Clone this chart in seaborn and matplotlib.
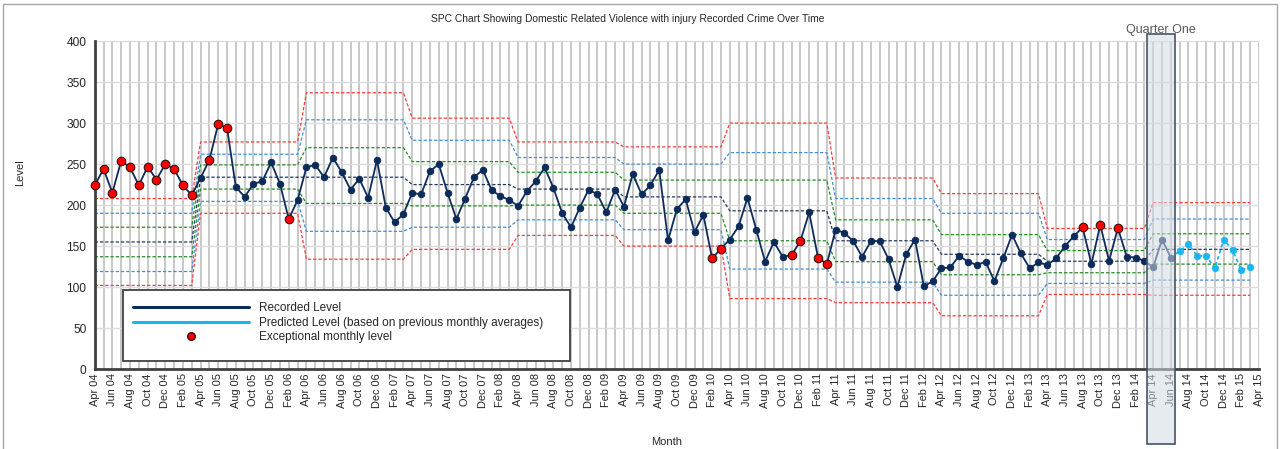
import numpy as np
import pandas as pd
import matplotlib
matplotlib.use("Agg")
import matplotlib.pyplot as plt
from matplotlib.patches import Rectangle
from matplotlib.lines import Line2D
import seaborn as sns

# month axis Apr 04 .. Apr 15
months = pd.date_range("2004-04-01", "2015-04-01", freq="MS")
month_labels = [d.strftime("%b %y") for d in months]

# recorded level Apr 04 .. Jun 14
recorded = [224, 244, 215, 254, 246, 224, 247, 231, 250, 244, 224, 212,
            233, 255, 299, 294, 222, 210, 226, 229, 252, 226, 183, 206,
            246, 249, 234, 258, 240, 219, 232, 209, 255, 197, 179, 189,
            215, 213, 241, 250, 215, 183, 208, 234, 243, 218, 211, 206,
            199, 217, 229, 246, 221, 190, 173, 197, 219, 213, 191, 219,
            198, 238, 213, 224, 243, 157, 195, 207, 167, 188, 135, 147,
            158, 174, 209, 170, 131, 155, 137, 139, 156, 191, 136, 128,
            170, 166, 156, 137, 156, 156, 134, 100, 140, 158, 101, 107,
            123, 124, 138, 131, 127, 131, 107, 135, 164, 141, 123, 130,
            127, 135, 150, 162, 173, 128, 176, 132, 172, 137, 136, 132,
            124, 158, 136]
# predicted level Jul 14 .. Mar 15
predicted = [144, 152, 138, 138, 123, 158, 145, 121, 124]
exceptional_idx = [0, 1, 2, 3, 4, 5, 6, 7, 8, 9, 10, 11, 13, 14, 15, 22,
                   70, 71, 79, 80, 82, 83, 112, 114, 116]

# control limits, one value per financial year (Apr - Mar)
upper3 = [208, 277, 337, 306, 277, 271, 300, 233, 214, 171.5, 203]
upper2 = [190, 262, 304, 279, 258, 250, 264, 208, 190, 158, 183]
upper1 = [173, 249, 270, 253, 240, 230.5, 230.5, 182, 164, 144.5, 165]
mean_level = [155, 234, 234, 225, 219.5, 210, 193, 156.5, 140, 131.5, 146]
lower1 = [137, 219.5, 202, 199, 200, 190, 156.5, 131, 115, 117.5, 128]
lower2 = [119, 204.5, 168, 173, 182, 170, 122, 106, 90, 104.5, 108.5]
lower3 = [102, 190, 134, 146, 163, 150, 86, 81, 65, 91, 90]

sns.set_style("white")
plt.rcParams['font.family'] = ['Liberation Sans', 'DejaVu Sans']

fig = plt.figure(figsize=(12.8, 4.49), dpi=100)
ax = fig.add_axes([0.074, 0.178, 0.9096, 0.7305])

# control limit lines
limit_x = np.arange(len(upper3) * 12)
limits = [(upper3, '#ff3b3b'), (upper2, '#3f8fd8'), (upper1, '#1f8f1f'),
          (mean_level, '#1f3864'), (lower1, '#1f8f1f'), (lower2, '#3f8fd8'),
          (lower3, '#ff3b3b')]
for vals, col in limits:
    lim_df = pd.DataFrame({'x': limit_x, 'y': np.repeat(vals, 12)})
    sns.lineplot(data=lim_df, x='x', y='y', ax=ax, color=col, lw=0.9,
                 estimator=None, zorder=3).lines[-1].set_dashes((2.6, 1.6))

# recorded series
rec_df = pd.DataFrame({'x': np.arange(len(recorded)), 'y': recorded})
sns.lineplot(data=rec_df, x='x', y='y', ax=ax, color='#0d2b5a', lw=1.3,
             marker='o', markersize=4.6, markeredgecolor='#0d2b5a',
             estimator=None, zorder=5, clip_on=False)

# predicted series (joined on to the last recorded month)
pred_x = np.arange(len(recorded) - 1, len(recorded) + len(predicted))
pred_df = pd.DataFrame({'x': pred_x, 'y': [recorded[-1]] + predicted})
sns.lineplot(data=pred_df, x='x', y='y', ax=ax, color='#19b6ee', lw=1.3,
             linestyle=(0, (2, 1.5)), estimator=None, zorder=4)
sns.scatterplot(data=pred_df.iloc[1:], x='x', y='y', ax=ax, color='#19b6ee',
                s=22, edgecolor='#19b6ee', linewidth=0.5, zorder=5)

# exceptional months
exc_df = rec_df.iloc[exceptional_idx]
sns.scatterplot(data=exc_df, x='x', y='y', ax=ax, color='#ff0000',
                s=38, edgecolor='#3a1010', linewidth=0.8, zorder=7.5,
                clip_on=False)

# axes styling
ax.set_xlim(0, len(months) - 1)
ax.set_ylim(0, 400)
ax.set_yticks(np.arange(0, 401, 50))
ax.set_xticks(np.arange(len(months)))
ax.set_xticklabels([lab if i % 2 == 0 else '' for i, lab in enumerate(month_labels)],
                   rotation=90)
ax.tick_params(axis='x', direction='inout', length=4, width=1, color='#404040',
               labelsize=7.9, pad=1)
ax.tick_params(axis='y', direction='out', length=4, width=1, color='#404040',
               labelsize=8.6, pad=2)
ax.xaxis.grid(True, color='#c4c4c4', lw=1.3)
ax.yaxis.grid(True, color='#dcdcdc', lw=1)
ax.set_axisbelow(True)
for side in ['top', 'right']:
    ax.spines[side].set_visible(False)
for side in ['left', 'bottom']:
    ax.spines[side].set_color('#404040')
    ax.spines[side].set_linewidth(2)
    ax.spines[side].set_zorder(7)

ax.set_xlabel('Month', fontsize=8)
ax.set_ylabel('Level', fontsize=8)
ax.xaxis.set_label_coords(0.4915, -0.207)
ax.yaxis.set_label_coords(-0.06, 0.60)

# legend box
ax.add_patch(Rectangle((0.0246, 0.0244), 0.3834, 0.2166, transform=ax.transAxes,
                       facecolor='white', edgecolor='#404040', lw=1.3, zorder=8))
handles = [Line2D([], [], color='#0d2b5a', lw=2.2),
           Line2D([], [], color='#19b6ee', lw=2.2),
           Line2D([], [], color='none', marker='o', markerfacecolor='#ff0000',
                  markeredgecolor='#3a1010', markersize=5.5)]
ax.legend(handles, ['Recorded Level',
                    'Predicted Level (based on previous monthly averages)',
                    'Exceptional monthly level'],
          loc='upper left', bbox_to_anchor=(0.033, 0.204), frameon=False,
          borderpad=0, borderaxespad=0, handlelength=9.8, handletextpad=0.85,
          labelspacing=0.22, fontsize=8.5).set_zorder(9)

# Quarter One highlight
ax.add_patch(Rectangle((119.25, -0.229), 3.25, 1.25,
                       transform=ax.get_xaxis_transform(), facecolor='#d3dbe4',
                       alpha=0.55, edgecolor='none', clip_on=False, zorder=10))
ax.add_patch(Rectangle((119.25, -0.229), 3.25, 1.25,
                       transform=ax.get_xaxis_transform(), facecolor='none',
                       edgecolor='#44546a', lw=1.2, clip_on=False, zorder=11))
ax.text(120.9, 1.035, 'Quarter One', transform=ax.get_xaxis_transform(),
        ha='center', va='center', fontsize=9, color='#595959')

fig.text(628 / 1280, 1 - 19 / 449,
         'SPC Chart Showing Domestic Related Violence with injury Recorded Crime Over Time',
         ha='center', va='center', fontsize=7.4)

# outer chart frame
fig.patches.append(Rectangle((3 / 1280, -0.01), 1 - 6 / 1280, 1 - 4 / 449 + 0.01,
                             transform=fig.transFigure, facecolor='none',
                             edgecolor='#a6a6a6', lw=1))

fig.savefig('out.png', dpi=100)
